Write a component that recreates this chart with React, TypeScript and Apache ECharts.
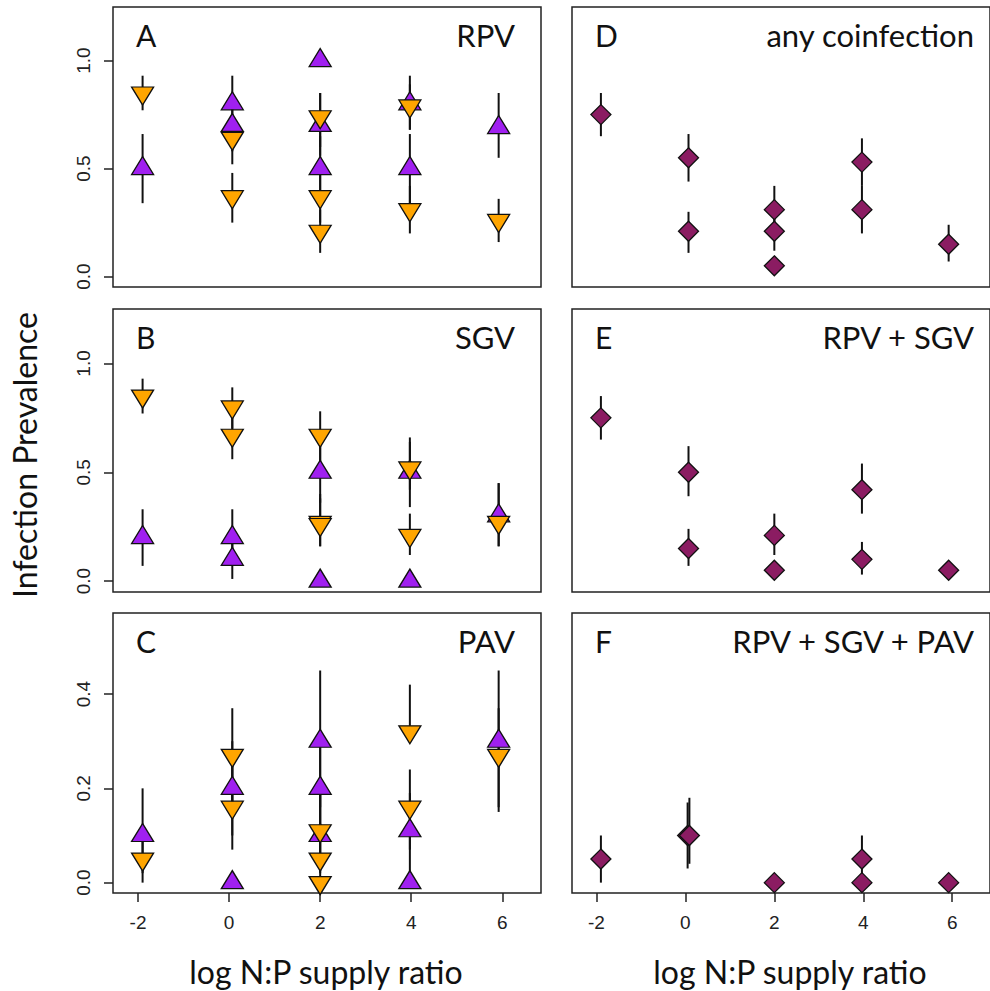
import React, { useEffect, useRef } from "react";
import * as echarts from "echarts";

// ---- data: [x, prevalence, lower CI, upper CI] ----
const xTicks = [-2, 0, 2, 4, 6];
const yTicksFull = [0, 0.5, 1.0];
const yTicksPav = [0, 0.2, 0.4];

// Panel A — RPV
const rpvPurple = [
  [-1.9, 0.5, 0.34, 0.66], [0.07, 0.8, 0.68, 0.93], [0.07, 0.7, 0.58, 0.82],
  [2, 1.0, 1.0, 1.0], [2, 0.7, 0.56, 0.85], [2, 0.5, 0.35, 0.65],
  [3.97, 0.8, 0.68, 0.93], [3.97, 0.5, 0.34, 0.66], [5.92, 0.69, 0.55, 0.85],
];
const rpvOrange = [
  [-1.9, 0.85, 0.77, 0.93], [0.07, 0.64, 0.52, 0.75], [0.07, 0.37, 0.25, 0.48],
  [2, 0.74, 0.6, 0.85], [2, 0.37, 0.25, 0.49], [2, 0.21, 0.11, 0.31],
  [3.97, 0.79, 0.68, 0.89], [3.97, 0.31, 0.2, 0.42], [5.92, 0.26, 0.16, 0.36],
];
// Panel B — SGV
const sgvPurple = [
  [-1.9, 0.2, 0.07, 0.33], [0.07, 0.2, 0.1, 0.33], [0.07, 0.1, 0.01, 0.2],
  [2, 0.5, 0.36, 0.64], [2, 0, 0, 0], [3.97, 0.5, 0.34, 0.66], [3.97, 0, 0, 0],
  [5.92, 0.3, 0.16, 0.45],
];
const sgvOrange = [
  [-1.9, 0.85, 0.77, 0.93], [0.07, 0.8, 0.7, 0.89], [0.07, 0.67, 0.56, 0.77],
  [2, 0.67, 0.55, 0.78], [2, 0.27, 0.16, 0.4], [2, 0.26, 0.16, 0.38],
  [3.97, 0.52, 0.42, 0.64], [3.97, 0.21, 0.12, 0.31], [5.92, 0.27, 0.16, 0.45],
];
// Panel C — PAV
const pavPurple = [
  [-1.9, 0.1, 0.02, 0.2], [0.07, 0.2, 0.1, 0.3], [0.07, 0, 0, 0],
  [2, 0.3, 0.16, 0.45], [2, 0.2, 0.09, 0.32], [2, 0.1, 0.02, 0.2],
  [3.97, 0.11, 0.02, 0.19], [3.97, 0, 0, 0], [5.92, 0.3, 0.16, 0.45],
];
const pavOrange = [
  [-1.9, 0.05, 0, 0.12], [0.07, 0.27, 0.16, 0.37], [0.07, 0.16, 0.07, 0.25],
  [2, 0.11, 0.03, 0.2], [2, 0.05, 0, 0.12], [2, 0, 0, 0],
  [3.97, 0.32, 0.3, 0.42], [3.97, 0.16, 0.07, 0.24], [5.92, 0.27, 0.15, 0.37],
];
// Panel D — any coinfection
const anyCoinfection = [
  [-1.9, 0.75, 0.65, 0.85], [0.07, 0.55, 0.44, 0.66], [0.07, 0.21, 0.11, 0.3],
  [2, 0.31, 0.21, 0.42], [2, 0.21, 0.12, 0.3], [2, 0.05, 0.05, 0.05],
  [3.97, 0.53, 0.42, 0.64], [3.97, 0.31, 0.2, 0.42], [5.92, 0.15, 0.07, 0.24],
];
// Panel E — RPV + SGV
const rpvSgv = [
  [-1.9, 0.75, 0.65, 0.85], [0.07, 0.5, 0.39, 0.62], [0.07, 0.15, 0.07, 0.24],
  [2, 0.21, 0.12, 0.31], [2, 0.05, 0.05, 0.05], [3.97, 0.42, 0.31, 0.54],
  [3.97, 0.1, 0.03, 0.18], [5.92, 0.05, 0.05, 0.05],
];
// Panel F — RPV + SGV + PAV
const rpvSgvPav = [
  [-1.9, 0.05, 0, 0.1], [0.05, 0.1, 0.03, 0.17], [0.09, 0.1, 0.04, 0.18],
  [2, 0, 0, 0], [3.97, 0.05, 0.01, 0.1], [3.97, 0, 0, 0], [5.92, 0, 0, 0],
];

const PURPLE = "#A020F0";
const ORANGE = "#FFA500";
const MAROON = "#8B1C62";
const TICK_FONT = "'Liberation Sans', Arial, sans-serif";
const TEXT_FONT = "Lato, 'Noto Sans', sans-serif";

const panels = [
  { letter: "A", name: "RPV", purple: rpvPurple, orange: rpvOrange, yr: [-0.048, 1.248], yt: yTicksFull, left: true, bottom: false, rect: { left: 113, top: 7, width: 428, height: 280 } },
  { letter: "B", name: "SGV", purple: sgvPurple, orange: sgvOrange, yr: [-0.05, 1.25], yt: yTicksFull, left: true, bottom: false, rect: { left: 113, top: 309, width: 428, height: 283 } },
  { letter: "C", name: "PAV", purple: pavPurple, orange: pavOrange, yr: [-0.022, 0.572], yt: yTicksPav, left: true, bottom: true, rect: { left: 113, top: 613, width: 428, height: 280 } },
  { letter: "D", name: "any coinfection", diamonds: anyCoinfection, yr: [-0.048, 1.248], yt: yTicksFull, left: false, bottom: false, rect: { left: 572, top: 7, width: 428, height: 280 } },
  { letter: "E", name: "RPV + SGV", diamonds: rpvSgv, yr: [-0.05, 1.25], yt: yTicksFull, left: false, bottom: false, rect: { left: 572, top: 309, width: 428, height: 283 } },
  { letter: "F", name: "RPV + SGV + PAV", diamonds: rpvSgvPav, yr: [-0.022, 0.572], yt: yTicksPav, left: false, bottom: true, rect: { left: 572, top: 613, width: 428, height: 280 } },
];

function buildOption() {
  const grid: any[] = [];
  const xAxis: any[] = [];
  const yAxis: any[] = [];
  const series: any[] = [];
  const graphic: any[] = [];

  panels.forEach((p: any, i: number) => {
    grid.push({
      ...p.rect,
      show: true,
      borderColor: "#222",
      borderWidth: 1.5,
      backgroundColor: "transparent",
    });
    xAxis.push({
      type: "value",
      gridIndex: i,
      position: "bottom",
      min: -2.55,
      max: 6.85,
      splitLine: { show: false },
      axisLine: { show: false, onZero: false },
      axisTick: {
        show: p.bottom,
        customValues: xTicks,
        length: 9,
        lineStyle: { color: "#222", width: 1.5 },
      },
      axisLabel: {
        show: p.bottom,
        customValues: xTicks,
        margin: 20,
        fontSize: 19,
        fontFamily: TICK_FONT,
        color: "#222",
        formatter: (v: number) => String(v),
      },
    });
    yAxis.push({
      type: "value",
      gridIndex: i,
      position: "left",
      min: p.yr[0],
      max: p.yr[1],
      splitLine: { show: false },
      axisLine: { show: false, onZero: false },
      axisTick: {
        show: p.left,
        customValues: p.yt,
        length: 9,
        lineStyle: { color: "#222", width: 1.5 },
      },
      axisLabel: {
        show: p.left,
        customValues: p.yt,
        rotate: 90,
        margin: 20,
        fontSize: 19,
        fontFamily: TICK_FONT,
        color: "#222",
        formatter: (v: number) => v.toFixed(1),
      },
    });

    const all = p.diamonds ? p.diamonds : [...p.purple, ...p.orange];
    series.push({
      type: "custom",
      xAxisIndex: i,
      yAxisIndex: i,
      silent: true,
      clip: false,
      encode: { x: 0, y: [1, 2] },
      data: all.map((d: number[]) => [d[0], d[2], d[3]]),
      renderItem: (params: any, api: any) => {
        const a = api.coord([api.value(0), api.value(1)]);
        const b = api.coord([api.value(0), api.value(2)]);
        return {
          type: "line",
          shape: { x1: a[0], y1: a[1], x2: b[0], y2: b[1] },
          style: { stroke: "#111", lineWidth: 2 },
        };
      },
    });
    if (p.diamonds) {
      series.push({
        type: "scatter",
        xAxisIndex: i,
        yAxisIndex: i,
        clip: false,
        symbol: "diamond",
        symbolSize: 20,
        itemStyle: { color: MAROON, borderColor: "#111", borderWidth: 1.3, opacity: 1 },
        data: p.diamonds.map((d: number[]) => [d[0], d[1]]),
      });
    } else {
      series.push({
        type: "scatter",
        xAxisIndex: i,
        yAxisIndex: i,
        clip: false,
        symbol: "triangle",
        symbolSize: [22, 18],
        symbolOffset: [0, -3],
        itemStyle: { color: PURPLE, borderColor: "#111", borderWidth: 1.3, opacity: 1 },
        data: p.purple.map((d: number[]) => [d[0], d[1]]),
      });
      series.push({
        type: "scatter",
        xAxisIndex: i,
        yAxisIndex: i,
        clip: false,
        symbol: "triangle",
        symbolRotate: 180,
        symbolSize: [22, 18],
        symbolOffset: [0, 3],
        itemStyle: { color: ORANGE, borderColor: "#111", borderWidth: 1.3, opacity: 1 },
        data: p.orange.map((d: number[]) => [d[0], d[1]]),
      });
    }

    const r = p.rect;
    graphic.push({
      type: "text",
      x: r.left + 23,
      y: r.top + 28,
      style: {
        text: p.letter,
        fontSize: 30,
        fontFamily: TEXT_FONT,
        fill: "#111",
        align: "left",
        verticalAlign: "middle",
      },
    });
    graphic.push({
      type: "text",
      x: r.left + r.width - 26,
      y: r.top + 28,
      style: {
        text: p.name,
        fontSize: 31,
        fontFamily: TEXT_FONT,
        fill: "#111",
        align: "right",
        verticalAlign: "middle",
      },
    });
  });

  graphic.push({
    type: "text",
    x: 326,
    y: 971,
    style: { text: "log N:P supply ratio", fontSize: 32, fontFamily: TEXT_FONT, fill: "#111", align: "center", verticalAlign: "middle" },
  });
  graphic.push({
    type: "text",
    x: 790,
    y: 971,
    style: { text: "log N:P supply ratio", fontSize: 32, fontFamily: TEXT_FONT, fill: "#111", align: "center", verticalAlign: "middle" },
  });
  graphic.push({
    type: "text",
    x: 24,
    y: 455,
    rotation: Math.PI / 2,
    style: { text: "Infection Prevalence", fontSize: 32, fontFamily: TEXT_FONT, fill: "#111", align: "center", verticalAlign: "middle" },
  });

  return {
    animation: false,
    backgroundColor: "#fff",
    grid,
    xAxis,
    yAxis,
    series,
    graphic,
  };
}

export default function App() {
  const ref = useRef<HTMLDivElement>(null);
  useEffect(() => {
    if (!ref.current) return;
    const chart = echarts.init(ref.current, undefined, { renderer: "svg" });
    chart.setOption(buildOption() as any);
    return () => chart.dispose();
  }, []);
  return (
    <div
      ref={ref}
      style={{ position: "absolute", left: 0, top: 0, width: 990, height: 991, overflow: "hidden" }}
    />
  );
}
